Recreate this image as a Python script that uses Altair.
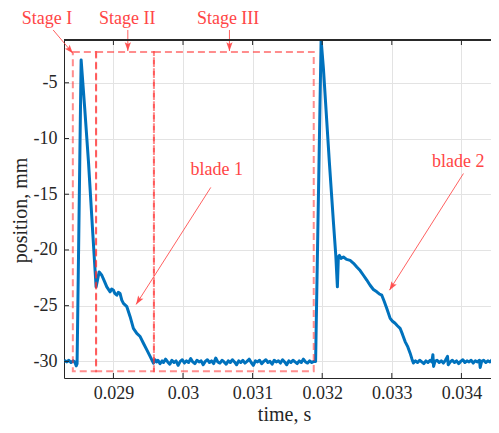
import math
import altair as alt
import pandas as pd

# ---------------- data (time in ms, position in mm) ----------------
# baseline before first blade + first blade passage
blade1_t = [28.29, 28.31, 28.33, 28.36, 28.39, 28.42, 28.445, 28.465, 28.478,
            28.536, 28.589, 28.641, 28.704, 28.751,
            28.795, 28.833, 28.87, 28.905, 28.953, 28.975, 29.00, 29.02, 29.049,
            29.07, 29.096, 29.12, 29.144, 29.193, 29.24, 29.287, 29.336, 29.384,
            29.431, 29.48, 29.527, 29.575]
blade1_y = [-30.0, -29.95, -30.05, -29.9, -30.1, -29.95, -30.05, -30.4, -30.2,
            -2.95, -7.40, -12.02, -18.56, -23.31,
            -21.97, -22.27, -22.8, -23.31, -23.76, -23.5, -23.61, -23.9, -24.06,
            -23.8, -23.91, -24.5, -24.80, -25.09, -25.99, -27.03, -27.48, -27.77,
            -28.37, -28.97, -29.55, -30.15]

# rest position between the blades
rest1_t = [29.60, 29.62, 29.64, 29.67, 29.70, 29.72, 29.75, 29.78, 29.81, 29.84,
           29.87, 29.90, 29.93, 29.96, 29.99, 30.02, 30.05, 30.08, 30.11, 30.14,
           30.17, 30.20, 30.23, 30.26, 30.29, 30.32, 30.35, 30.38, 30.41, 30.44,
           30.47, 30.50, 30.53, 30.56, 30.59, 30.62, 30.65, 30.68, 30.71, 30.74,
           30.77, 30.80, 30.83, 30.86, 30.89, 30.92, 30.95, 30.98, 31.01, 31.04,
           31.07, 31.10, 31.13, 31.16, 31.19, 31.22, 31.25, 31.28, 31.31, 31.34,
           31.37, 31.40, 31.43, 31.46, 31.49, 31.52, 31.55, 31.58, 31.61, 31.64,
           31.67, 31.70, 31.73, 31.76, 31.79, 31.82, 31.85, 31.88, 31.905]
rest1_y = [-29.85, -30.05, -29.9, -30.2, -29.95, -30.1, -29.8, -30.05, -30.25, -29.9,
           -30.1, -29.95, -30.35, -30.0, -29.85, -30.15, -29.95, -30.1, -29.75, -30.05,
           -30.2, -29.9, -30.05, -29.95, -30.3, -30.0, -29.85, -30.1, -29.95, -30.2,
           -29.7, -30.05, -30.15, -29.9, -30.05, -30.25, -29.95, -30.1, -29.85, -30.05,
           -30.3, -29.95, -30.1, -29.9, -30.15, -30.0, -29.8, -30.1, -30.35, -29.95,
           -30.05, -29.9, -30.2, -30.0, -29.85, -30.1, -30.0, -30.25, -29.9, -30.05,
           -29.95, -30.15, -29.85, -30.05, -30.3, -29.95, -30.1, -29.9, -30.05, -30.2,
           -29.95, -30.1, -29.8, -30.05, -30.15, -29.95, -30.1, -30.0, -30.0]

# second blade passage
blade2_t = [31.984, 32.017, 32.103, 32.161, 32.195, 32.218, 32.232, 32.247, 32.27,
            32.305, 32.35, 32.401, 32.45, 32.497, 32.545, 32.592, 32.64, 32.688,
            32.735, 32.784, 32.82, 32.856, 32.89, 32.928, 32.976, 33.01, 33.047,
            33.08, 33.119, 33.155, 33.191, 33.23, 33.263, 33.29]
blade2_y = [-1.15, -3.68, -12.16, -17.51, -20.49, -23.31, -20.6, -20.49, -20.75,
            -20.63, -20.85, -20.94, -21.2, -21.53, -21.85, -22.27, -22.7, -23.17,
            -23.55, -23.76, -23.95, -24.06, -24.6, -25.25, -26.14, -26.4, -26.58,
            -26.8, -27.03, -27.6, -28.22, -28.7, -29.26, -29.8]

# rest position after the second blade
rest2_t = [33.31, 33.34, 33.37, 33.40, 33.43, 33.46, 33.49, 33.52, 33.55, 33.575,
           33.59, 33.60, 33.62, 33.65, 33.68, 33.71, 33.74, 33.77, 33.80, 33.81,
           33.84, 33.87, 33.90, 33.93, 33.96, 33.99, 34.02, 34.05, 34.08, 34.11,
           34.14, 34.17, 34.20, 34.23, 34.26, 34.27, 34.29, 34.32, 34.35, 34.38,
           34.41, 34.44, 34.47, 34.50, 34.55]
rest2_y = [-30.15, -29.95, -30.1, -29.9, -30.05, -30.2, -29.95, -30.1, -29.9, -30.05,
           -29.4, -30.45, -30.0, -29.9, -30.1, -29.95, -30.15, -29.9, -29.55, -30.3,
           -30.05, -29.9, -30.1, -29.95, -30.2, -30.0, -29.85, -30.1, -29.95, -30.05,
           -29.9, -30.15, -29.95, -30.05, -29.9, -30.55, -30.0, -29.9, -30.1, -29.95,
           -30.05, -29.85, -30.1, -29.95, -30.0]

# stage boxes (time in ms)
stage_start_ms = [28.417, 28.751, 29.582]
stage_end_ms = [28.751, 29.582, 31.878]
stage_top = -2.23
stage_bottom = -30.89

# annotation labels (time in ms, position in mm)
label_text = ["Stage I", "Stage II", "Stage III", "blade 1", "blade 2"]
label_t = [28.047, 29.197, 30.648, 30.486, 33.953]
label_y = [0.28, 0.28, 0.28, -13.27, -12.58]

# annotation arrows: start -> head (time in ms, position in mm)
arrow_t1 = [28.134, 29.207, 30.667, 30.399, 34.029]
arrow_y1 = [-0.26, -0.26, -0.26, -14.39, -13.14]
arrow_t2 = [28.417, 29.207, 30.667, 29.326, 32.966]
arrow_y2 = [-2.35, -2.15, -2.15, -24.89, -23.61]

x_ticks = [0.029, 0.03, 0.031, 0.032, 0.033, 0.034]
y_ticks = [-30, -25, -20, -15, -10, -5]

# ---------------- layout / style ----------------
W, H = 427, 338
X_DOMAIN = [0.02829, 0.034425]
Y_DOMAIN = [-31.49, -1.16]
FONT = "Liberation Serif, Times New Roman, serif"
AX = "#262626"
RED_TXT = "#FF4545"
RED_BOX = "#FF3030"
BLUE = "#0072BD"

xscale = alt.Scale(domain=X_DOMAIN, nice=False, zero=False)
yscale = alt.Scale(domain=Y_DOMAIN, nice=False, zero=False)

xaxis = alt.Axis(values=x_ticks, labelExpr="'' + datum.value", title="time, s",
                 grid=True, gridColor="#e3e3e3", gridWidth=1, ticks=False,
                 domainColor=AX, domainWidth=1, labelFont=FONT, labelFontSize=18,
                 labelColor=AX, labelPadding=6, titleFont=FONT, titleFontSize=20,
                 titleFontWeight="normal", titleColor=AX, titleX=220, titleY=42,
                 titleAlign="center", titleBaseline="alphabetic")
yaxis = alt.Axis(values=y_ticks, labelExpr="'' + datum.value", title="position, mm",
                 grid=True, gridColor="#e3e3e3", gridWidth=1, ticks=False,
                 domainColor=AX, domainWidth=1, labelFont=FONT, labelFontSize=18,
                 labelColor=AX, labelPadding=7, titleFont=FONT, titleFontSize=20,
                 titleFontWeight="normal", titleColor=AX, titleAngle=270,
                 titleX=-38, titleY=170, titleAlign="center",
                 titleBaseline="alphabetic")

def X(f):
    return alt.X(f, scale=xscale, axis=xaxis)

def Y(f):
    return alt.Y(f, scale=yscale, axis=yaxis)

# signal table
sig_t = blade1_t + rest1_t + blade2_t + rest2_t
sig_y = blade1_y + rest1_y + blade2_y + rest2_y
sig = pd.DataFrame({"t": [v / 1000 for v in sig_t], "y": sig_y})

boxes = pd.DataFrame({
    "t1": [v / 1000 for v in stage_start_ms],
    "t2": [v / 1000 for v in stage_end_ms],
    "y1": [stage_top] * 3,
    "y2": [stage_bottom] * 3,
})

labels = pd.DataFrame({"t": [v / 1000 for v in label_t], "y": label_y,
                       "txt": label_text})

px_x = W / (X_DOMAIN[1] - X_DOMAIN[0])
px_y = H / (Y_DOMAIN[1] - Y_DOMAIN[0])
angles = []
for a, b, c, d in zip(arrow_t1, arrow_y1, arrow_t2, arrow_y2):
    dx = (c - a) / 1000 * px_x
    dy = -(d - b) * px_y
    angles.append(math.degrees(math.atan2(dx, -dy)) % 360)
arrows = pd.DataFrame({
    "t1": [v / 1000 for v in arrow_t1], "y1": arrow_y1,
    "t2": [v / 1000 for v in arrow_t2], "y2": arrow_y2,
    "ang": angles,
})

xt = pd.DataFrame({"v": x_ticks})
yt = pd.DataFrame({"v": y_ticks})

line = alt.Chart(sig).mark_line(color=BLUE, strokeWidth=3, clip=True,
                                strokeJoin="round").encode(x=X("t:Q"), y=Y("y:Q"))

rects = alt.Chart(boxes).mark_rect(filled=False, stroke=RED_BOX, strokeOpacity=0.55,
                                   strokeWidth=2, strokeDash=[7, 4]).encode(
    x=X("t1:Q"), x2="t2:Q", y=Y("y1:Q"), y2="y2:Q")

shafts = alt.Chart(arrows).mark_rule(color=RED_TXT, strokeWidth=1, opacity=0.85).encode(
    x=X("t1:Q"), x2="t2:Q", y=Y("y1:Q"), y2="y2:Q")

heads = alt.Chart(arrows).mark_point(
    shape="M0,0 L0.36,1 L0,0.8 L-0.36,1 Z", filled=True, size=300,
    color=RED_TXT, opacity=0.9, strokeWidth=0).encode(
    x=X("t2:Q"), y=Y("y2:Q"), angle=alt.Angle("ang:Q", scale=None))

texts = alt.Chart(labels).mark_text(font=FONT, fontSize=18, color=RED_TXT,
                                    align="center", baseline="alphabetic").encode(
    x=X("t:Q"), y=Y("y:Q"), text="txt:N")

xticks_bottom = alt.Chart(xt).mark_rule(color=AX, strokeWidth=1).encode(
    x=X("v:Q"), y=alt.value(H), y2=alt.value(H - 5))
xticks_top = alt.Chart(xt).mark_rule(color=AX, strokeWidth=1).encode(
    x=X("v:Q"), y=alt.value(0), y2=alt.value(5))
yticks_left = alt.Chart(yt).mark_rule(color=AX, strokeWidth=1).encode(
    y=Y("v:Q"), x=alt.value(0), x2=alt.value(5))
top_border = alt.Chart(xt).mark_rule(color=AX, strokeWidth=1).encode(
    x=alt.value(0), x2=alt.value(W), y=alt.value(0))

chart = alt.layer(line, rects, shafts, heads, texts,
                  xticks_bottom, xticks_top, yticks_left, top_border).properties(
    width=W, height=H, autosize="none",
    padding={"left": 56, "top": 32, "right": 0, "bottom": 47},
    background="white",
).configure_view(strokeWidth=0)

chart.save("out.html", embed_options={"renderer": "svg", "actions": False})
